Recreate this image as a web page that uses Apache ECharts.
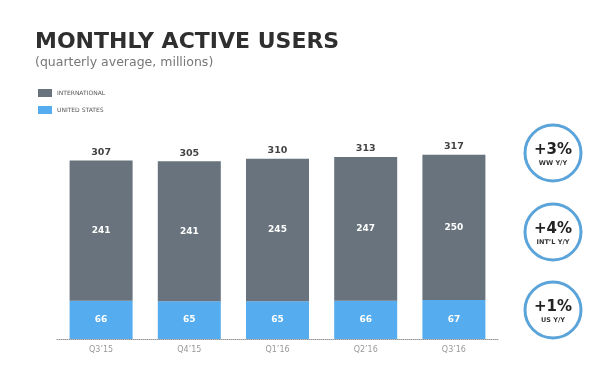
<!DOCTYPE html>
<html><head><meta charset="utf-8">
<script src="https://cdn.jsdelivr.net/npm/echarts@6/dist/echarts.min.js"></script>
<style>html,body{margin:0;padding:0;background:#fff}#c{width:600px;height:370px}</style>
</head><body><div id="c"></div>
<script>
const categories = ["Q3’15", "Q4’15", "Q1’16", "Q2’16", "Q3’16"];
const international = [241, 241, 245, 247, 250];
const unitedStates = [66, 65, 65, 66, 67];
const totals = [307, 305, 310, 313, 317];
const badgeValues = ["+3%", "+4%", "+1%"];
const badgeLabels = ["WW Y/Y", "INT’L Y/Y", "US Y/Y"];

const GRAY = '#68737d', BLUE = '#55acee';
const chart = echarts.init(document.getElementById('c'), null, {renderer: 'canvas'});

const badgeY = [153, 232, 310];
const graphics = [];
badgeValues.forEach((v, i) => {
  graphics.push({type: 'circle', shape: {cx: 553, cy: badgeY[i], r: 28},
    style: {fill: '#fff', stroke: '#5ba4da', lineWidth: 3}});
  graphics.push({type: 'text', x: 553, y: badgeY[i] - 3,
    style: {text: v, font: 'bold 15px "DejaVu Sans"', fill: '#222', align: 'center', verticalAlign: 'middle'}});
  graphics.push({type: 'text', x: 553, y: badgeY[i] + 10,
    style: {text: badgeLabels[i], font: '600 6.5px "DejaVu Sans"', fill: '#333', align: 'center', verticalAlign: 'middle'}});
});
graphics.push({type: 'text', x: 35, y: 42,
  style: {text: 'MONTHLY ACTIVE USERS', font: 'bold 22px "DejaVu Sans"', fill: '#2f2f2f', verticalAlign: 'middle'}});
graphics.push({type: 'text', x: 35, y: 63,
  style: {text: '(quarterly average, millions)', font: '12.5px "DejaVu Sans"', fill: '#777', verticalAlign: 'middle'}});

chart.setOption({
  animation: false,
  legend: {
    left: 33, top: 84, orient: 'vertical', itemWidth: 14, itemHeight: 8, itemGap: 9,
    icon: 'rect',
    textStyle: {fontSize: 6, color: '#555', fontFamily: 'DejaVu Sans'},
    data: ['INTERNATIONAL', 'UNITED STATES']
  },
  grid: {left: 57, right: 102, top: 153, bottom: 31, containLabel: false},
  xAxis: {
    type: 'category', data: categories,
    axisLine: {show: true, lineStyle: {color: '#999', type: 'dotted', width: 1}},
    axisTick: {show: false},
    axisLabel: {color: '#999', fontSize: 8, fontFamily: 'DejaVu Sans', margin: 7}
  },
  yAxis: {type: 'value', min: 0, max: 320, show: false, splitLine: {show: false}},
  graphic: graphics,
  series: [
    {name: 'UNITED STATES', type: 'bar', stack: 't', data: unitedStates, barWidth: 63,
     itemStyle: {color: BLUE},
     label: {show: true, position: 'inside', color: '#fff', fontWeight: 'bold', fontSize: 9, fontFamily: 'DejaVu Sans'}},
    {name: 'INTERNATIONAL', type: 'bar', stack: 't', data: international, barWidth: 63,
     itemStyle: {color: GRAY},
     label: {show: true, position: 'inside', color: '#fff', fontWeight: 'bold', fontSize: 9, fontFamily: 'DejaVu Sans'}},
    {name: 'total', type: 'scatter', data: totals, symbolSize: 1, itemStyle: {color: 'rgba(0,0,0,0)'},
     silent: true,
     label: {show: true, position: 'top', distance: 3, color: '#111', fontWeight: 'bold', fontSize: 9.5, fontFamily: 'DejaVu Sans'}}
  ]
});
</script></body></html>
